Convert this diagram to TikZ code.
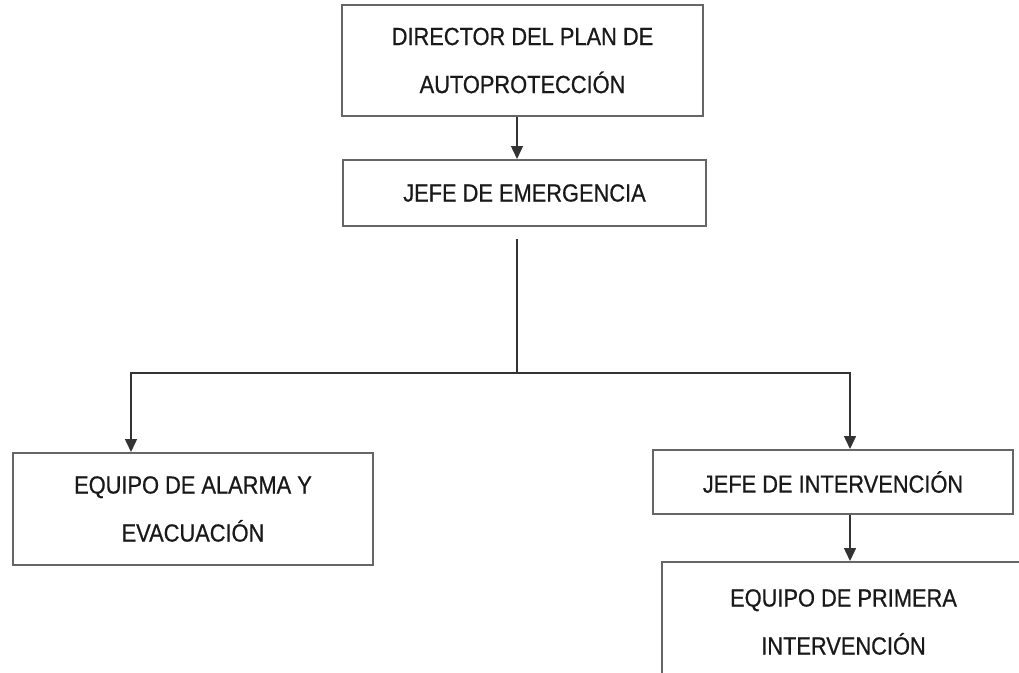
\documentclass[tikz,border=0pt]{standalone}
\usepackage{fontspec}
\setmainfont{Liberation Sans}[FakeStretch=0.88,FakeBold=0.6]
\usetikzlibrary{arrows.meta}
\begin{document}
\begin{tikzpicture}[x=1pt,y=-1pt,
  box/.style={draw=black!60, line width=2pt, rectangle, inner sep=0pt},
  txt/.style={align=center, font=\fontsize{24.8}{48}\selectfont, text=black!90},
  conn/.style={draw=black!80, line width=1.5pt},
  arr/.style={conn, -{Triangle[width=12pt,length=13pt]}}]
\useasboundingbox (0,0) rectangle (1019,672);
\clip (0,0) rectangle (1019,672);
\fill[white] (0,0) rectangle (1019,672);
\node[box, txt, minimum width=361pt, minimum height=111pt] (dir) at (522.5,60.5) {DIRECTOR DEL PLAN DE\\AUTOPROTECCIÓN};
\node[box, txt, minimum width=363pt, minimum height=66pt] (jefe) at (524.5,193) {JEFE DE EMERGENCIA};
\node[box, txt, minimum width=360pt, minimum height=112pt] (alarma) at (193,509) {EQUIPO DE ALARMA Y\\EVACUACIÓN};
\node[box, txt, minimum width=360pt, minimum height=64pt] (jint) at (833,482) {JEFE DE INTERVENCIÓN};
\node[box, anchor=north west, minimum width=365pt, minimum height=130pt] (prim) at (661,561) {};
\node[txt] (primtxt) at (843.5,622) {EQUIPO DE PRIMERA\\INTERVENCIÓN};
\coordinate (cx) at (517,0);
\coordinate (top) at (517,239);
\coordinate (mid) at (517,373);
\coordinate (lx) at (131,0);
\coordinate (rx) at (850,0);
\draw[arr] (dir.south -| cx) -- (jefe.north -| cx);
\draw[conn] (top) -- (mid);
\draw[arr] (mid) -- (mid -| lx) -- (alarma.north -| lx);
\draw[arr] (mid) -- (mid -| rx) -- (jint.north -| rx);
\draw[arr] (jint.south -| rx) -- (prim.north -| rx);
\end{tikzpicture}
\end{document}
